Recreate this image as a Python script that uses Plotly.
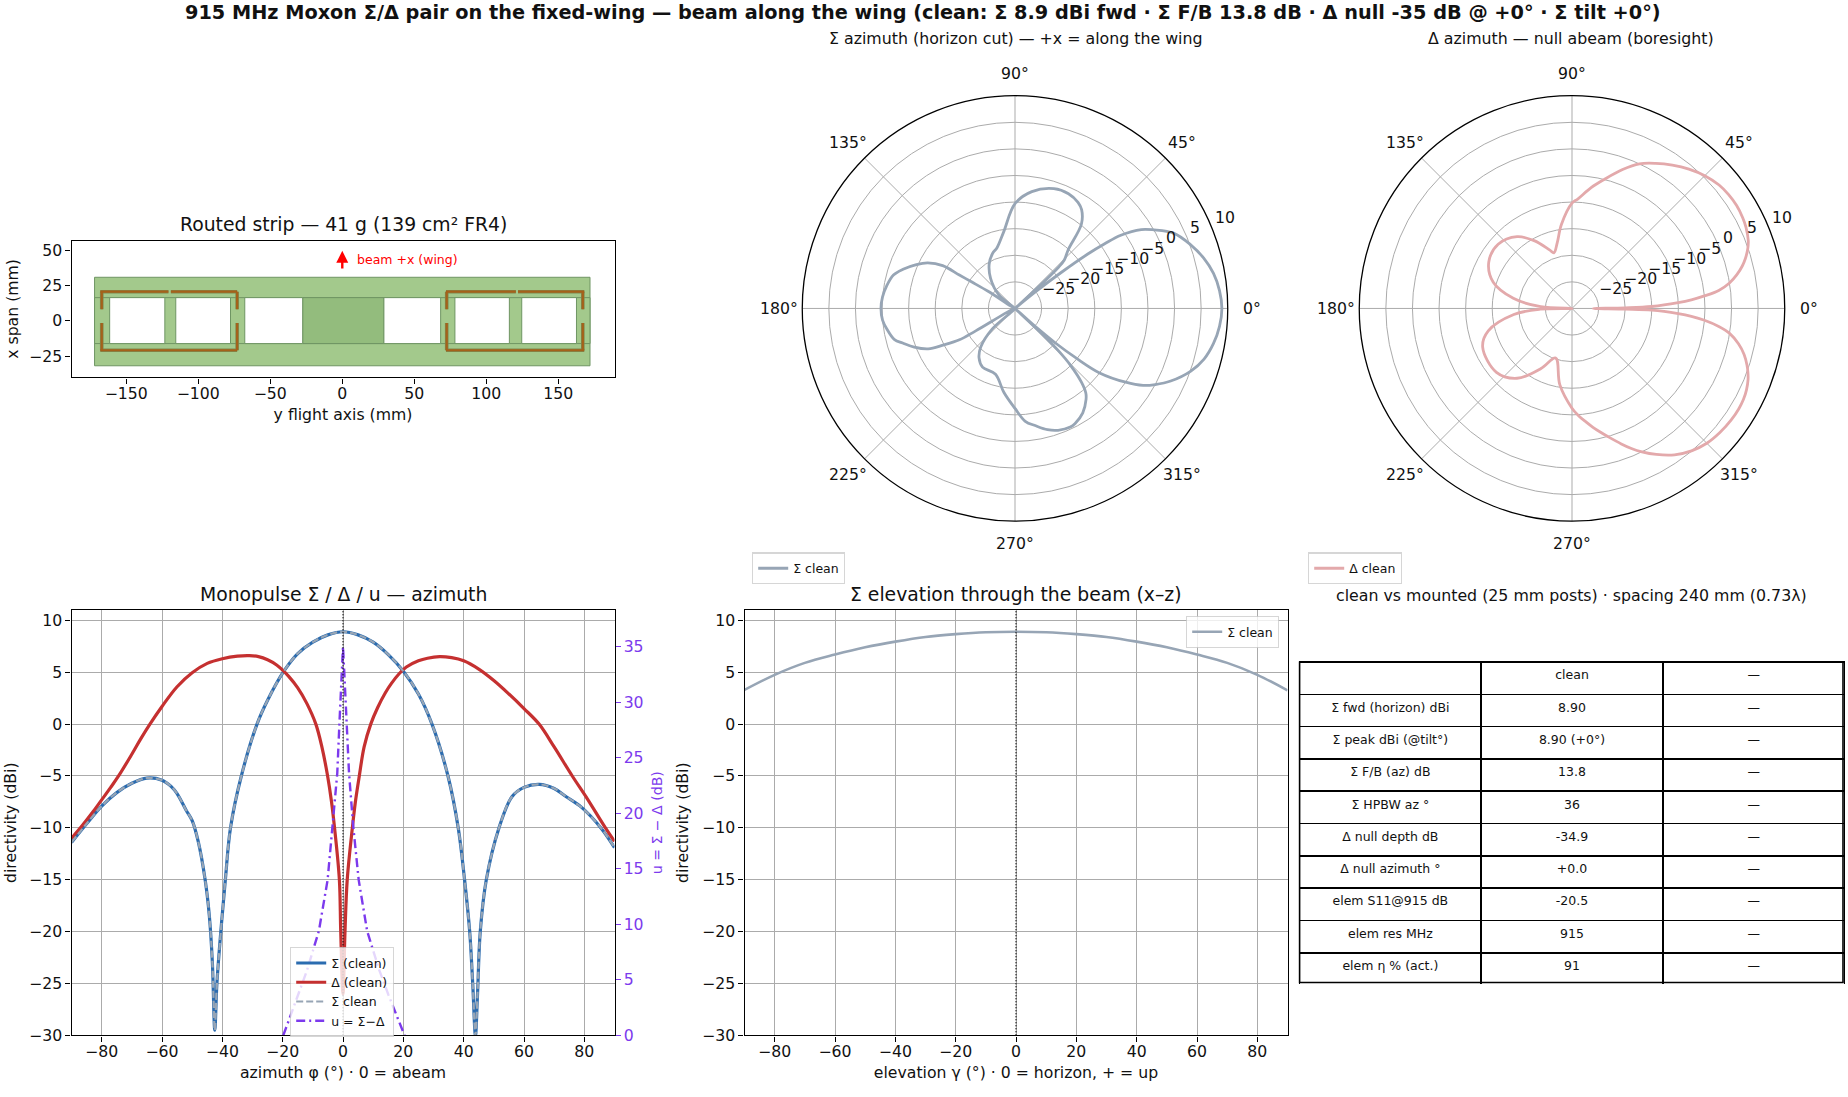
import math
import plotly.graph_objects as go

FONT = "DejaVu Sans"
W, H = 1848, 1097

# ----------------------------
# Data
# ----------------------------
phi_sigma = [-90, -85, -80, -75, -70, -65, -60, -57, -55, -52, -50, -48, -45.7, -44.3, -43.3, -42.5, -41.8,
             -40.5, -39, -37.3, -33.7, -28.5, -25, -19.6, -15, -10, -5, 0, 5, 10, 15, 20,
             25, 29.5, 34.8, 38.2, 40.3, 42, 43, 43.9, 44.6, 45.5, 47.5, 51.7, 56, 60, 65,
             70, 74, 79, 85.5, 90]
sigma_clean = [-11.4, -9.6, -7.9, -6.6, -5.7, -5.2, -5.4, -6, -6.7, -8.3, -9.3, -11.3, -15, -18.5, -23, -29.5, -25,
               -20, -15, -10, -5, 0, 2.3, 5.1, 6.8, 7.9, 8.6, 8.9, 8.6, 7.9, 6.7, 5.1,
               2.9, 0, -5, -10, -15, -20, -25, -30, -26, -20, -15, -10, -7, -6.1, -5.8,
               -6.2, -7, -8, -10, -11.9]

phi_delta = [-90, -86.5, -83, -80, -77, -74.4, -70, -67, -64, -60, -55, -50, -45, -40, -35, -31, -28, -25, -22, -20,
             -18, -15, -12, -9, -7, -5.1, -3.8, -2.8, -1.2, -0.75, 0, 0.66, 1.4, 3.1, 4.1, 5.4, 7, 9.2, 11.5, 14, 16,
             18.6, 21, 25, 28, 32, 36, 40, 45, 50, 55, 60, 65, 70, 76, 81, 87, 90]
delta_clean = [-11, -9.8, -8.5, -7.3, -6.1, -5, -2.9, -1.4, 0, 1.7, 3.6, 4.95, 5.85, 6.3, 6.55, 6.6, 6.5, 6.2, 5.7, 5.2,
               4.6, 3.5, 2, 0, -2.2, -5, -7.5, -10, -15, -20, -26, -20, -15, -10, -7.5, -5, -2.2, 0, 1.6, 3, 3.9,
               4.85, 5.5, 6.1, 6.35, 6.5, 6.4, 6.1, 5.3, 4.2, 2.9, 1.5, 0, -2.2, -5, -7.2, -10, -11.3]

phi_u = [-19.8, -15, -12, -10, -8, -5.1, -3.4, -1.9, -1.2, -0.4, 0, 0.4, 1.2, 2, 3.4, 5.2, 8, 10, 12, 15, 20.4]
u_clean = [0, 3.6, 5.8, 7.6, 9.4, 14, 18.8, 23.6, 28, 32.8, 35, 32.8, 28, 23.6, 18.8, 14, 9.4, 7.7, 5.9, 3.7, 0]

elev_deg = [-90, -80, -70, -60, -50, -40, -30, -20, -10, 0, 10, 20, 30, 40, 50, 60, 70, 80, 90]
elev_sigma = [3.3, 4.75, 5.9, 6.7, 7.4, 7.95, 8.4, 8.67, 8.85, 8.9, 8.85, 8.67, 8.4, 7.95, 7.4, 6.7, 5.9, 4.75, 3.25]

theta_sigma = [-180, -175, -170.9, -165.5, -162.9, -159, -155, -153, -150.6, -150.3, -146, -137.9, -131.6, -126, -119,
               -106.5, -97.6, -90, -84.8, -80, -75, -70.5, -65, -62.4, -57, -52, -50, -48, -45.7, -44.3, -43.3, -42.5,
               -41.8, -40.5, -39, -37.3, -33.7, -31, -28.5, -25, -19.6, -15, -10, -5, 0, 5, 10, 15, 20, 25.4, 29.5,
               32, 34.7, 35.8, 36.8, 37.9, 39, 40, 41, 42.5, 43.4, 44.5, 47.8, 51.8, 56, 59.3, 65, 72, 81.8, 90,
               98.3, 106.5, 112, 120, 129, 139.8, 146, 147.5, 148.5, 149, 149.4, 152.4, 156, 160.7, 164.6, 170, 175, 180]
r_sigma = [-4.8, -5, -5.6, -6.6, -7.9, -9.7, -12, -14.8, -18, -21.5, -30, -24.2, -20.3, -18.5, -17.4,
           -17.1, -14.1, -11.2, -8.7, -7.6, -6.4, -5.7, -5.4, -5.6, -6.6, -8.3, -9.3, -11.3, -15, -18.5, -23, -30,
           -25, -20, -15, -10, -5, -1.9, 0, 2.3, 5.1, 6.8, 7.9, 8.6, 8.9, 8.6, 7.9, 6.7, 5.1, 3, 0,
           -2, -5.8, -9.3, -13, -19, -25, -30, -30, -24, -18.8, -17, -15.1, -9.8, -7.6, -6.8, -6.2, -6.3, -7.8, -10.3,
           -15.4, -18.1, -18.8, -20.3, -22.7, -26, -30, -24, -20.5, -17.8, -14.2, -11.5, -9.7, -7.7, -6.3, -5.5, -5, -4.8]

theta_delta = [-180, -178.6, -174, -165, -156.6, -139.8, -128.2, -117.3, -108.3, -99.1, -90,
               -86.5, -83, -80, -77, -74.4, -70, -67, -64, -60, -55, -50, -45, -40, -35, -31, -28, -25, -22, -20,
               -18, -15, -12, -9, -7, -5.1, -3.8, -2.8, -1.2, -0.75, 0, 0.66, 1.4, 3.1, 4.1, 5.4, 7, 9.2, 11.5, 14, 16,
               18.6, 21, 25, 28, 32, 36, 40, 45, 50, 55, 60, 65, 70, 76, 81, 87, 90,
               97.2, 102.6, 108, 111, 119.2, 127.4, 139, 151, 161.6, 170.2, 176.7, 180]
r_delta = [-30, -24, -19, -13.7, -11.7, -11.4, -13.3, -17.3, -20.2, -15.5, -11.25,
           -9.8, -8.5, -7.3, -6.1, -5, -2.9, -1.4, 0, 1.7, 3.6, 4.95, 5.85, 6.3, 6.55, 6.6, 6.5, 6.2, 5.7, 5.2,
           4.6, 3.5, 2, 0, -2.2, -5, -7.5, -10, -15, -20, -26, -20, -15, -10, -7.5, -5, -2.2, 0, 1.6, 3, 3.9,
           4.85, 5.5, 6.1, 6.35, 6.5, 6.4, 6.1, 5.3, 4.2, 2.9, 1.5, 0, -2.2, -5, -7, -9.4, -10.2,
           -14.1, -17.3, -19, -18.2, -15.4, -13, -11.6, -12.1, -14.4, -18.8, -24.1, -30]

# routed strip geometry (mm)
board_y = [-172, 172]
board_x = [-31.8, 30.8]
spine_x = [-16.1, 16.4]
window_left = [-161.5, -115.6, -67.7, 28.9, 78.2, 124.6]
window_right = [-123.2, -77.6, -27.5, 68.3, 116, 162.6]
hub_y = [-27.5, 28.9]
dipole_h_segments = [(-168, -120.7, 20.6), (-119, -73, 20.6), (-168, -73, -20.8),
                     (72, 120.5, 20.6), (122, 168, 20.6), (72, 168, -20.8)]
dipole_v_segments = [(-167, 8.2, 20.6), (-167, -20.8, -1.6), (-73, 8.2, 20.6), (-73, -20.8, -1.6),
                     (72.5, 8.2, 20.6), (72.5, -20.8, -1.6), (167, 8.2, 20.6), (167, -20.8, -1.6)]

table_rows = ["", "Σ fwd (horizon) dBi", "Σ peak dBi (@tilt°)", "Σ F/B (az) dB", "Σ HPBW az °",
              "Δ null depth dB", "Δ null azimuth °", "elem S11@915 dB", "elem res MHz", "elem η % (act.)"]
table_clean = ["clean", "8.90", "8.90 (+0°)", "13.8", "36", "-34.9", "+0.0", "-20.5", "915", "91"]
table_mounted = ["—"] * 10

polar_angles = [0, 45, 90, 135, 180, 225, 270, 315]
polar_rings = [-25, -20, -15, -10, -5, 0, 5, 10]

# colours
BLUE = "#2b6cb0"
RED = "#c53030"
SLATE = "#97a5b5"
PINK = "#e3a9ab"
PURPLE = "#7c3aed"
GRID = "#ababab"
INK = "#111111"


def px(x):
    return x / W


def py(y):
    return 1 - y / H


def dom_x(x0, x1):
    return [px(x0), px(x1)]


def dom_y(y0, y1):
    return [py(y1), py(y0)]


fig = go.Figure()

# ----------------------------
# Traces
# ----------------------------
fig.add_trace(go.Scatterpolar(r=r_sigma, theta=theta_sigma, mode="lines", name="Σ clean", subplot="polar",
                              line=dict(color=SLATE, width=2.8, shape="spline", smoothing=1), legend="legend"))
fig.add_trace(go.Scatterpolar(r=r_delta, theta=theta_delta, mode="lines", name="Δ clean", subplot="polar2",
                              line=dict(color=PINK, width=2.8, shape="spline", smoothing=1), legend="legend2"))

fig.add_trace(go.Scatter(x=phi_sigma, y=sigma_clean, mode="lines", name="Σ (clean)", xaxis="x2", yaxis="y2",
                         line=dict(color=BLUE, width=3.2, shape="spline", smoothing=1), legend="legend3"))
fig.add_trace(go.Scatter(x=phi_delta, y=delta_clean, mode="lines", name="Δ (clean)", xaxis="x2", yaxis="y2",
                         line=dict(color=RED, width=3.2, shape="spline", smoothing=1), legend="legend3"))
fig.add_trace(go.Scatter(x=phi_sigma, y=sigma_clean, mode="lines", name="Σ clean", xaxis="x2", yaxis="y2",
                         line=dict(color=SLATE, width=2.2, dash="7px,3px", shape="spline", smoothing=1),
                         legend="legend3"))
fig.add_trace(go.Scatter(x=phi_u, y=u_clean, mode="lines", name="u = Σ−Δ", xaxis="x2", yaxis="y3",
                         line=dict(color=PURPLE, width=2.4, dash="9px,4px,2px,4px"), legend="legend3"))

fig.add_trace(go.Scatter(x=elev_deg, y=elev_sigma, mode="lines", name="Σ clean", xaxis="x3", yaxis="y4",
                         line=dict(color=SLATE, width=2.6, shape="spline"), legend="legend4"))

fig.add_trace(go.Table(
    domain=dict(x=dom_x(1299.5, 1845), y=dom_y(667.5, 993)),
    columnwidth=[1, 1, 1],
    header=dict(values=[table_rows[0], table_clean[0], table_mounted[0]], height=32.3, align="center",
                line=dict(color="black", width=1.6), fill=dict(color="white"),
                font=dict(family=FONT, size=12.5, color=INK)),
    cells=dict(values=[table_rows[1:], table_clean[1:], table_mounted[1:]], height=32.3, align="center",
               line=dict(color="black", width=1.6), fill=dict(color="white"),
               font=dict(family=FONT, size=12.5, color=INK)),
))

# ----------------------------
# Strip drawing
# ----------------------------
BOARD_FILL = "#a3c98c"
BOARD_EDGE = "#6f9563"
shapes = []
shapes.append(dict(type="rect", xref="x", yref="y", x0=board_y[0], x1=board_y[1], y0=board_x[0], y1=board_x[1],
                   fillcolor=BOARD_FILL, line=dict(color=BOARD_EDGE, width=1)))
shapes.append(dict(type="rect", xref="x", yref="y", x0=board_y[0], x1=board_y[1], y0=spine_x[0], y1=spine_x[1],
                   fillcolor=BOARD_FILL, line=dict(color=BOARD_EDGE, width=1)))
shapes.append(dict(type="rect", xref="x", yref="y", x0=hub_y[0], x1=hub_y[1], y0=spine_x[0], y1=spine_x[1],
                   fillcolor="#93bc7d", line=dict(color=BOARD_EDGE, width=1)))
for x0, x1 in zip(window_left, window_right):
    shapes.append(dict(type="rect", xref="x", yref="y", x0=x0, x1=x1, y0=spine_x[0], y1=spine_x[1],
                       fillcolor="white", line=dict(color=BOARD_EDGE, width=1)))
for color, width in (("#7f8a50", 3.6), ("#a5611a", 2.2)):
    for x0, x1, y in dipole_h_segments:
        shapes.append(dict(type="line", xref="x", yref="y", x0=x0, x1=x1, y0=y, y1=y, line=dict(color=color, width=width)))
    for x, y0, y1 in dipole_v_segments:
        shapes.append(dict(type="line", xref="x", yref="y", x0=x, x1=x, y0=y0, y1=y1, line=dict(color=color, width=width)))

# boresight markers
for xr, yr in (("x2", "y2 domain"), ("x3", "y4 domain")):
    shapes.append(dict(type="line", xref=xr, yref=yr, x0=0, x1=0, y0=0, y1=1, line=dict(color="black", width=1, dash="1.5px,1.5px")))

# table frame, plotly leaves the outer right and bottom edges off
shapes.append(dict(type="rect", xref="paper", yref="paper", x0=px(1299.6), x1=px(1843), y0=py(990.7), y1=py(667.7),
                   line=dict(color="black", width=1.6)))

# ----------------------------
# Axes
# ----------------------------
axis_common = dict(showline=True, linecolor="black", linewidth=1.3, mirror=True, ticks="outside", ticklen=5,
                   tickwidth=1.1, tickcolor="black", zeroline=False,
                   tickfont=dict(family=FONT, size=15.7, color=INK),
                   title_font=dict(family=FONT, size=15.7, color=INK))
grid_common = dict(showgrid=True, gridcolor=GRID, gridwidth=1.3)

POLAR_TOP, POLAR_BOTTOM = 96.5, 525.5
POLAR_RADIUS = (POLAR_BOTTOM - POLAR_TOP) / 2
POLAR_CENTER_Y = (POLAR_TOP + POLAR_BOTTOM) / 2


def polar_layout(x0, x1):
    return dict(
        domain=dict(x=dom_x(x0, x1), y=dom_y(POLAR_TOP, POLAR_BOTTOM)),
        bgcolor="white",
        radialaxis=dict(range=[-30, 10], tickvals=polar_rings, angle=22.5, showticklabels=False,
                        showline=False, ticks="", gridcolor=GRID, gridwidth=1.2),
        angularaxis=dict(tickmode="array", tickvals=polar_angles, showticklabels=False,
                         direction="counterclockwise", rotation=0, ticks="", showline=True, linecolor="black",
                         linewidth=1.3, gridcolor=GRID, gridwidth=1.2),
    )


def ring_labels(center_x):
    # radial labels sit left-aligned on each ring along the 22.5 degree spoke
    notes = []
    for ring in polar_rings:
        reach = POLAR_RADIUS * (ring + 30) / 40
        text = f"{ring}".replace("-", "−")
        notes.append(dict(text=text, x=px(center_x + reach * math.cos(math.radians(22.5))),
                          y=py(POLAR_CENTER_Y - reach * math.sin(math.radians(22.5))), xref="paper", yref="paper",
                          xanchor="left", yanchor="middle", yshift=9.5, showarrow=False,
                          font=dict(family=FONT, size=15.7, color=INK)))
    return notes


def angle_labels(center_x):
    # angle labels are centred on a circle just outside the frame
    notes = []
    for angle in polar_angles:
        reach = POLAR_RADIUS + 22
        notes.append(dict(text=f"{angle}°", x=px(center_x + reach * math.cos(math.radians(angle))),
                          y=py(POLAR_CENTER_Y - reach * math.sin(math.radians(angle))), xref="paper", yref="paper",
                          xanchor="center", yanchor="middle", showarrow=False,
                          font=dict(family=FONT, size=15.7, color=INK)))
    return notes


def legend_at(x, y):
    return dict(x=px(x), y=py(y), xanchor="left", yanchor="top", bgcolor="rgba(255,255,255,0.8)",
                bordercolor="rgba(204,204,204,0.8)", borderwidth=1.2, font=dict(family=FONT, size=12.5, color=INK),
                itemwidth=30, tracegroupgap=0)


def title_note(text, x, y, size):
    return dict(text=text, x=px(x), y=py(y), xref="paper", yref="paper", xanchor="center", yanchor="middle",
                showarrow=False, font=dict(family=FONT, size=size, color=INK))


fig.update_layout(
    width=W, height=H, autosize=False, margin=dict(l=0, r=0, t=0, b=0, pad=0),
    paper_bgcolor="white", plot_bgcolor="white", showlegend=True,
    polar=polar_layout(801, 1229), polar2=polar_layout(1357, 1787),
    xaxis=dict(domain=dom_x(71.5, 614.5), range=[-188, 189], tickvals=[-150, -100, -50, 0, 50, 100, 150],
               ticklabelstandoff=-3, title=dict(text="y flight axis (mm)", standoff=6), showgrid=False, **axis_common),
    yaxis=dict(domain=dom_y(242.5, 380.5), range=[-40, 56.8], tickvals=[-25, 0, 25, 50],
               title=dict(text="x span (mm)", standoff=6), showgrid=False, **axis_common),
    xaxis2=dict(domain=dom_x(71.5, 614.5), anchor="y2", range=[-90, 90], tick0=-80, dtick=20,
                ticklabelstandoff=-3, title=dict(text="azimuth φ (°) · 0 = abeam", standoff=6), **grid_common, **axis_common),
    yaxis2=dict(domain=dom_y(615, 1044), anchor="x2", range=[-30, 11], tick0=-30, dtick=5,
                title=dict(text="directivity (dBi)", standoff=8), **grid_common, **axis_common),
    yaxis3=dict(domain=dom_y(615, 1044), anchor="x2", overlaying="y2", side="right", range=[0, 38.3], tick0=0, dtick=5,
                showgrid=False, zeroline=False, ticks="outside", ticklen=5, tickwidth=1.1, tickcolor=PURPLE,
                tickfont=dict(family=FONT, size=15.7, color=PURPLE),
                title=dict(text="u = Σ − Δ (dB)", standoff=9, font=dict(family=FONT, size=14.1, color=PURPLE))),
    xaxis3=dict(domain=dom_x(744.5, 1287.5), anchor="y4", range=[-90, 90], tick0=-80, dtick=20,
                ticklabelstandoff=-3, title=dict(text="elevation γ (°) · 0 = horizon, + = up", standoff=6),
                **grid_common, **axis_common),
    yaxis4=dict(domain=dom_y(615, 1044), anchor="x3", range=[-30, 11], tick0=-30, dtick=5,
                title=dict(text="directivity (dBi)", standoff=9), **grid_common, **axis_common),
    legend=legend_at(752, 557),
    legend2=legend_at(1308, 557),
    legend3=legend_at(290, 955),
    legend4=legend_at(1186, 621),
    shapes=shapes,
    annotations=[
        dict(text="<b>915 MHz Moxon Σ/Δ pair on the fixed-wing — beam along the wing (clean: Σ 8.9 dBi fwd · Σ F/B 13.8 dB · Δ null -35 dB @ +0° · Σ tilt +0°)</b>",
             x=px(923), y=py(13), xref="paper", yref="paper", xanchor="center", yanchor="middle",
             showarrow=False, font=dict(family=FONT, size=19.3, color=INK)),
        title_note("Σ azimuth (horizon cut) — +x = along the wing", 1016, 39, 15.8),
        title_note("Δ azimuth — null abeam (boresight)", 1571, 39, 15.8),
        title_note("Routed strip — 41 g (139 cm² FR4)", 343, 226, 18.8),
        title_note("Monopulse Σ / Δ / u — azimuth", 343, 599, 18.8),
        title_note("Σ elevation through the beam (x–z)", 1016, 599, 18.8),
        title_note("clean vs mounted (25 mm posts) · spacing 240 mm (0.73λ)", 1571, 600, 15.8),
        dict(x=0, y=49.5, ax=0, ay=36, xref="x", yref="y", axref="x", ayref="y", text="", showarrow=True,
             arrowhead=2, arrowsize=1, arrowwidth=2.4, arrowcolor="red"),
        dict(x=8.5, y=43.7, xref="x", yref="y", xanchor="left", yanchor="middle", text="beam +x (wing)", showarrow=False,
             font=dict(family=FONT, size=12.5, color="red")),
    ] + ring_labels(1015) + ring_labels(1572) + angle_labels(1015) + angle_labels(1572),
)

# the default body margin would push the canvas 8px in and past the window
fig.write_html("out.html", config={"displayModeBar": False}, post_script="document.body.style.margin = '0';")
